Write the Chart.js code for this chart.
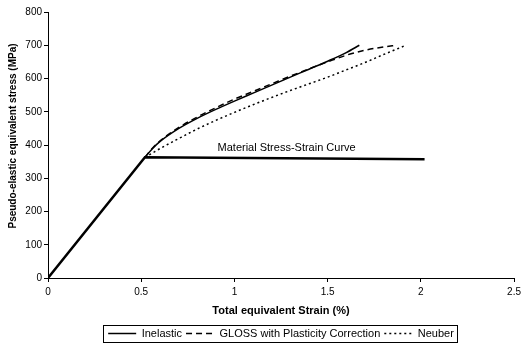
<!DOCTYPE html>
<html>
<head>
<meta charset="utf-8">
<script src="https://cdn.jsdelivr.net/npm/chart.js@4/dist/chart.umd.min.js"></script>
<style>
  body { margin: 0; background: #fff; }
  canvas { display: block; }
</style>
</head>
<body>
<canvas id="chart" width="525" height="343"></canvas>
<script>
// Values
const xTicks = [0, 0.5, 1, 1.5, 2, 2.5];
const yTicks = [0, 100, 200, 300, 400, 500, 600, 700, 800];

const materialStrain = [0, 0.52, 2.02];
const materialStress = [0, 363, 357];

const inelasticStrain = [0.52, 0.56, 0.6, 0.7, 0.8, 0.9, 1.0, 1.1, 1.2, 1.3, 1.4, 1.5, 1.6, 1.67];
const inelasticStress = [363, 389, 410, 449, 480, 507, 532, 556, 580, 604, 628, 652, 678, 700];

const glossStrain = [0.52, 0.56, 0.6, 0.7, 0.8, 0.9, 1.0, 1.1, 1.2, 1.3, 1.4, 1.5, 1.6, 1.7, 1.8, 1.87];
const glossStress = [363, 390, 412, 452, 484, 512, 538, 561, 584, 607, 629, 650, 670, 685, 695, 700];

const neuberStrain = [0.52, 0.56, 0.6, 0.7, 0.8, 0.9, 1.0, 1.1, 1.2, 1.3, 1.4, 1.5, 1.6, 1.7, 1.8, 1.92];
const neuberStress = [363, 376, 389, 419, 448, 474, 498, 521, 543, 564, 584, 604, 626, 648, 672, 700];

const FONT = '"Liberation Sans", Arial, sans-serif';

function toPoints(xs, ys) {
    return xs.map((x, i) => ({ x: x, y: ys[i] }));
}

// axis title on the left, the label on the flat curve and the box round the legend
const extras = {
    id: 'extras',
    afterDraw(chart) {
        const ctx = chart.ctx;
        const xs = chart.scales.x;
        const ys = chart.scales.y;
        ctx.save();
        ctx.fillStyle = '#000';

        ctx.font = '11px ' + FONT;
        ctx.textAlign = 'center';
        ctx.textBaseline = 'middle';
        ctx.fillText('Material Stress-Strain Curve', xs.getPixelForValue(1.28), ys.getPixelForValue(390));

        ctx.save();
        ctx.font = 'bold 10px ' + FONT;
        ctx.translate(13, 136);
        ctx.rotate(-Math.PI / 2);
        ctx.fillText('Pseudo-elastic equivalent stress (MPa)', 0, 0);
        ctx.restore();

        const boxes = chart.legend.legendHitBoxes;
        if (boxes && boxes.length) {
            const left = boxes[0].left - 5;
            const last = boxes[boxes.length - 1];
            const right = last.left + last.width + 3;
            const top = boxes[0].top - 3;
            const bottom = boxes[0].top + boxes[0].height + 3;
            ctx.strokeStyle = '#000';
            ctx.lineWidth = 1;
            ctx.strokeRect(Math.round(left) + 0.5, Math.round(top) + 0.5, Math.round(right - left), Math.round(bottom - top));
        }
        ctx.restore();
    }
};

const ctx = document.getElementById('chart').getContext('2d');

new Chart(ctx, {
    type: 'line',
    data: {
        datasets: [
            {
                label: 'Material Stress-Strain Curve',
                data: toPoints(materialStrain, materialStress),
                borderColor: '#000',
                borderWidth: 2.5,
                pointRadius: 0,
                tension: 0
            },
            {
                label: 'Inelastic',
                data: toPoints(inelasticStrain, inelasticStress),
                borderColor: '#000',
                borderWidth: 1.5,
                pointRadius: 0,
                pointStyle: 'line',
                cubicInterpolationMode: 'monotone'
            },
            {
                label: 'GLOSS with Plasticity Correction',
                data: toPoints(glossStrain, glossStress),
                borderColor: '#000',
                borderWidth: 1.5,
                borderDash: [6, 4],
                pointRadius: 0,
                pointStyle: 'line',
                cubicInterpolationMode: 'monotone'
            },
            {
                label: 'Neuber',
                data: toPoints(neuberStrain, neuberStress),
                borderColor: '#000',
                borderWidth: 1.5,
                borderDash: [2, 3],
                pointRadius: 0,
                pointStyle: 'line',
                cubicInterpolationMode: 'monotone'
            }
        ]
    },
    options: {
        responsive: false,
        animation: false,
        layout: {
            padding: { left: 0, right: 9, top: 12, bottom: -6 }
        },
        plugins: {
            legend: {
                position: 'bottom',
                fullSize: false,
                labels: {
                    color: '#000',
                    font: { family: FONT, size: 11 },
                    usePointStyle: true,
                    pointStyleWidth: 28,
                    padding: 4,
                    filter: item => item.datasetIndex > 0,
                    // keep each dataset's dash pattern in its legend sample
                    generateLabels: chart => Chart.defaults.plugins.legend.labels.generateLabels(chart).map(item => {
                        const ds = chart.data.datasets[item.datasetIndex];
                        item.lineDash = ds.borderDash || [];
                        item.lineWidth = ds.borderWidth;
                        return item;
                    })
                }
            },
            tooltip: { enabled: false }
        },
        scales: {
            x: {
                type: 'linear',
                min: 0,
                max: 2.5,
                afterBuildTicks: scale => { scale.ticks = xTicks.map(v => ({ value: v })); },
                afterFit: scale => { scale.height = 46; },
                ticks: {
                    color: '#000',
                    font: { family: FONT, size: 10 },
                    padding: 4,
                    callback: v => String(v)
                },
                grid: { drawOnChartArea: false, drawTicks: true, tickLength: 4, color: '#000' },
                border: { color: '#000', width: 1 },
                title: {
                    display: true,
                    text: 'Total equivalent Strain (%)',
                    color: '#000',
                    font: { family: FONT, size: 11, weight: 'bold' },
                    padding: { top: 0, bottom: 6 }
                }
            },
            y: {
                type: 'linear',
                min: 0,
                max: 800,
                afterBuildTicks: scale => { scale.ticks = yTicks.map(v => ({ value: v })); },
                afterFit: scale => { scale.width = 48; },
                ticks: {
                    color: '#000',
                    font: { family: FONT, size: 10 },
                    padding: 2,
                    callback: v => String(v)
                },
                grid: { drawOnChartArea: false, drawTicks: true, tickLength: 4, color: '#000' },
                border: { color: '#000', width: 1 }
            }
        }
    },
    plugins: [extras]
});
</script>
</body>
</html>
